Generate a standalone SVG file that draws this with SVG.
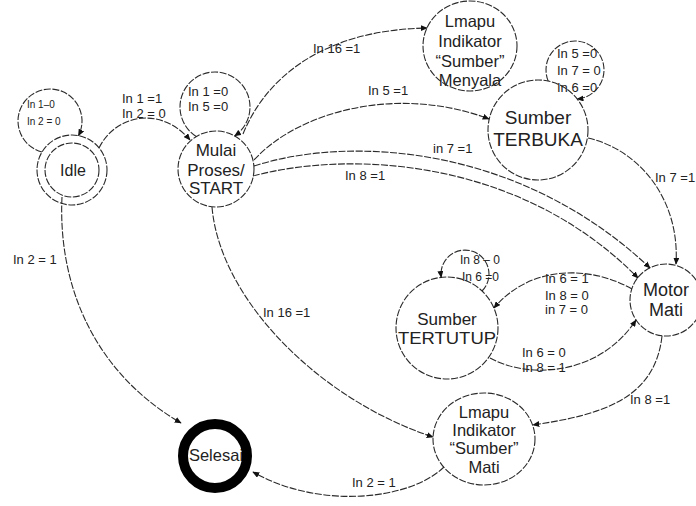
<svg xmlns="http://www.w3.org/2000/svg" width="696" height="506" viewBox="0 0 696 506">
<style>
.ln{fill:none;stroke:#2a2a2a;stroke-width:1.1;stroke-dasharray:7 1.6}
.nd{fill:#fff;stroke:#2a2a2a;stroke-width:1.1;stroke-dasharray:7 1.6}
.lb{font-family:"Liberation Sans",Arial,sans-serif;font-size:13px;fill:#222}
.nt{font-family:"Liberation Sans",Arial,sans-serif;fill:#222;text-anchor:middle}
</style>
<defs>
<marker id="ah" viewBox="0 0 10 10" refX="9" refY="5" markerWidth="7" markerHeight="6" markerUnits="userSpaceOnUse" orient="auto" preserveAspectRatio="none">
<path d="M0,0 L10,5 L0,10 z" fill="#111"/>
</marker>
</defs>
<rect width="696" height="506" fill="#fff"/>
<g id="idle">
<circle class="ln" cx="72" cy="170" r="35"/>
<circle class="nd" cx="72" cy="170" r="27"/>
<text class="nt" x="73" y="176" font-size="16">Idle</text>
</g>
<g id="mulai">
<circle class="nd" cx="216" cy="169" r="38"/>
<text class="nt" x="216" y="156" font-size="17">Mulai</text>
<text class="nt" x="216" y="176" font-size="17">Proses/</text>
<text class="nt" x="216" y="194" font-size="17">START</text>
</g>
<g id="lampu-menyala">
<ellipse class="nd" cx="470" cy="46" rx="47" ry="45"/>
<text class="nt" x="470" y="27" font-size="16.5">Lmapu</text>
<text class="nt" x="470" y="47" font-size="16.5">Indikator</text>
<text class="nt" x="470" y="67" font-size="16.5">“Sumber”</text>
<text class="nt" x="470" y="86" font-size="16.5">Menyala</text>
</g>
<g id="sumber-terbuka">
<circle class="nd" cx="538" cy="130" r="50"/>
<text class="nt" x="538" y="124" font-size="19">Sumber</text>
<text class="nt" x="538" y="146" font-size="19">TERBUKA</text>
</g>
<g id="motor-mati">
<circle class="nd" cx="666" cy="300" r="36"/>
<text class="nt" x="666" y="296" font-size="18">Motor</text>
<text class="nt" x="666" y="316" font-size="18">Mati</text>
</g>
<g id="sumber-tertutup">
<circle class="nd" cx="447" cy="328" r="51"/>
<text class="nt" x="447" y="325" font-size="17">Sumber</text>
<text class="nt" x="447" y="344" font-size="17" textLength="98" lengthAdjust="spacingAndGlyphs">TERTUTUP</text>
</g>
<g id="lampu-mati">
<ellipse class="nd" cx="484" cy="439" rx="51" ry="46"/>
<text class="nt" x="484" y="418" font-size="16.5">Lmapu</text>
<text class="nt" x="484" y="436" font-size="16.5">Indikator</text>
<text class="nt" x="484" y="454" font-size="16.5">“Sumber”</text>
<text class="nt" x="484" y="473" font-size="16.5">Mati</text>
</g>
<g id="selesai">
<circle cx="215" cy="456" r="32" fill="#fff"/>
<text class="nt" x="216" y="461" font-size="16.5">Selesai</text>
<circle cx="215" cy="456" r="32" fill="none" stroke="#000" stroke-width="10"/>
</g>
<g id="connectors">
<path class="ln" d="M42,152 A32 32 0 1 1 78.5,135.6" marker-end="url(#ah)"/>
<path class="ln" d="M196.2,136.5 A35 35 0 1 1 234.7,135.9" marker-end="url(#ah)"/>
<path class="ln" d="M548.2,81.1 A29 29 0 1 1 577.2,98.9" marker-end="url(#ah)"/>
<path class="ln" d="M482,291 A24 24 0 1 0 441.2,277.3" marker-end="url(#ah)"/>
<path class="ln" d="M99,148 C115,115 160,105 190,140" marker-end="url(#ah)"/>
<path class="ln" d="M243,134 C265,80 320,30 427,28" marker-end="url(#ah)"/>
<path class="ln" d="M254,160 C300,110 400,85 489,119" marker-end="url(#ah)"/>
<path class="ln" d="M254,166 C350,135 520,145 650,268" marker-end="url(#ah)"/>
<path class="ln" d="M253,176 C350,150 520,158 638,278" marker-end="url(#ah)"/>
<path class="ln" d="M588,138 C640,150 680,200 676,264" marker-end="url(#ah)"/>
<path class="ln" d="M632,289 C590,265 530,265 494,308" marker-end="url(#ah)"/>
<path class="ln" d="M490,358 C530,380 600,375 636,320" marker-end="url(#ah)"/>
<path class="ln" d="M662,336 C655,400 600,415 533,425" marker-end="url(#ah)"/>
<path class="ln" d="M212,207 C220,300 320,400 433,437" marker-end="url(#ah)"/>
<path class="ln" d="M62,197 C58,280 90,370 181,423" marker-end="url(#ah)"/>
<path class="ln" d="M444,467 C410,500 320,510 253,472" marker-end="url(#ah)"/>
<text class="lb" style="font-size:10px" x="27" y="108">In 1–0</text>
<text class="lb" style="font-size:10px" x="27" y="125">In 2 = 0</text>
<text class="lb" x="188" y="96">In 1 =0</text>
<text class="lb" x="188" y="111">In 5 =0</text>
<text class="lb" x="557" y="58">In 5 =0</text>
<text class="lb" x="557" y="75">In 7 = 0</text>
<text class="lb" x="557" y="92">In 6 =0</text>
<text class="lb" style="font-size:12px" x="460" y="264">In 8 – 0</text>
<text class="lb" style="font-size:12px" x="462" y="281">In 6 =0</text>
<text class="lb" x="122" y="103">In 1 =1</text>
<text class="lb" x="122" y="118">In 2 = 0</text>
<text class="lb" x="313" y="53">In 16 =1</text>
<text class="lb" x="368" y="95">In 5 =1</text>
<text class="lb" x="433" y="153">in 7 =1</text>
<text class="lb" x="345" y="180">In 8 =1</text>
<text class="lb" x="655" y="182">In 7 =1</text>
<text class="lb" x="545" y="283">In 6 = 1</text>
<text class="lb" x="545" y="300">In 8 = 0</text>
<text class="lb" x="545" y="314">in 7 = 0</text>
<text class="lb" x="522" y="357">In 6 = 0</text>
<text class="lb" x="522" y="372">In 8 = 1</text>
<text class="lb" x="630" y="404">In 8 =1</text>
<text class="lb" x="263" y="317">In 16 =1</text>
<text class="lb" x="13" y="264">In 2 = 1</text>
<text class="lb" x="352" y="487">In 2 = 1</text>
</g>
</svg>
